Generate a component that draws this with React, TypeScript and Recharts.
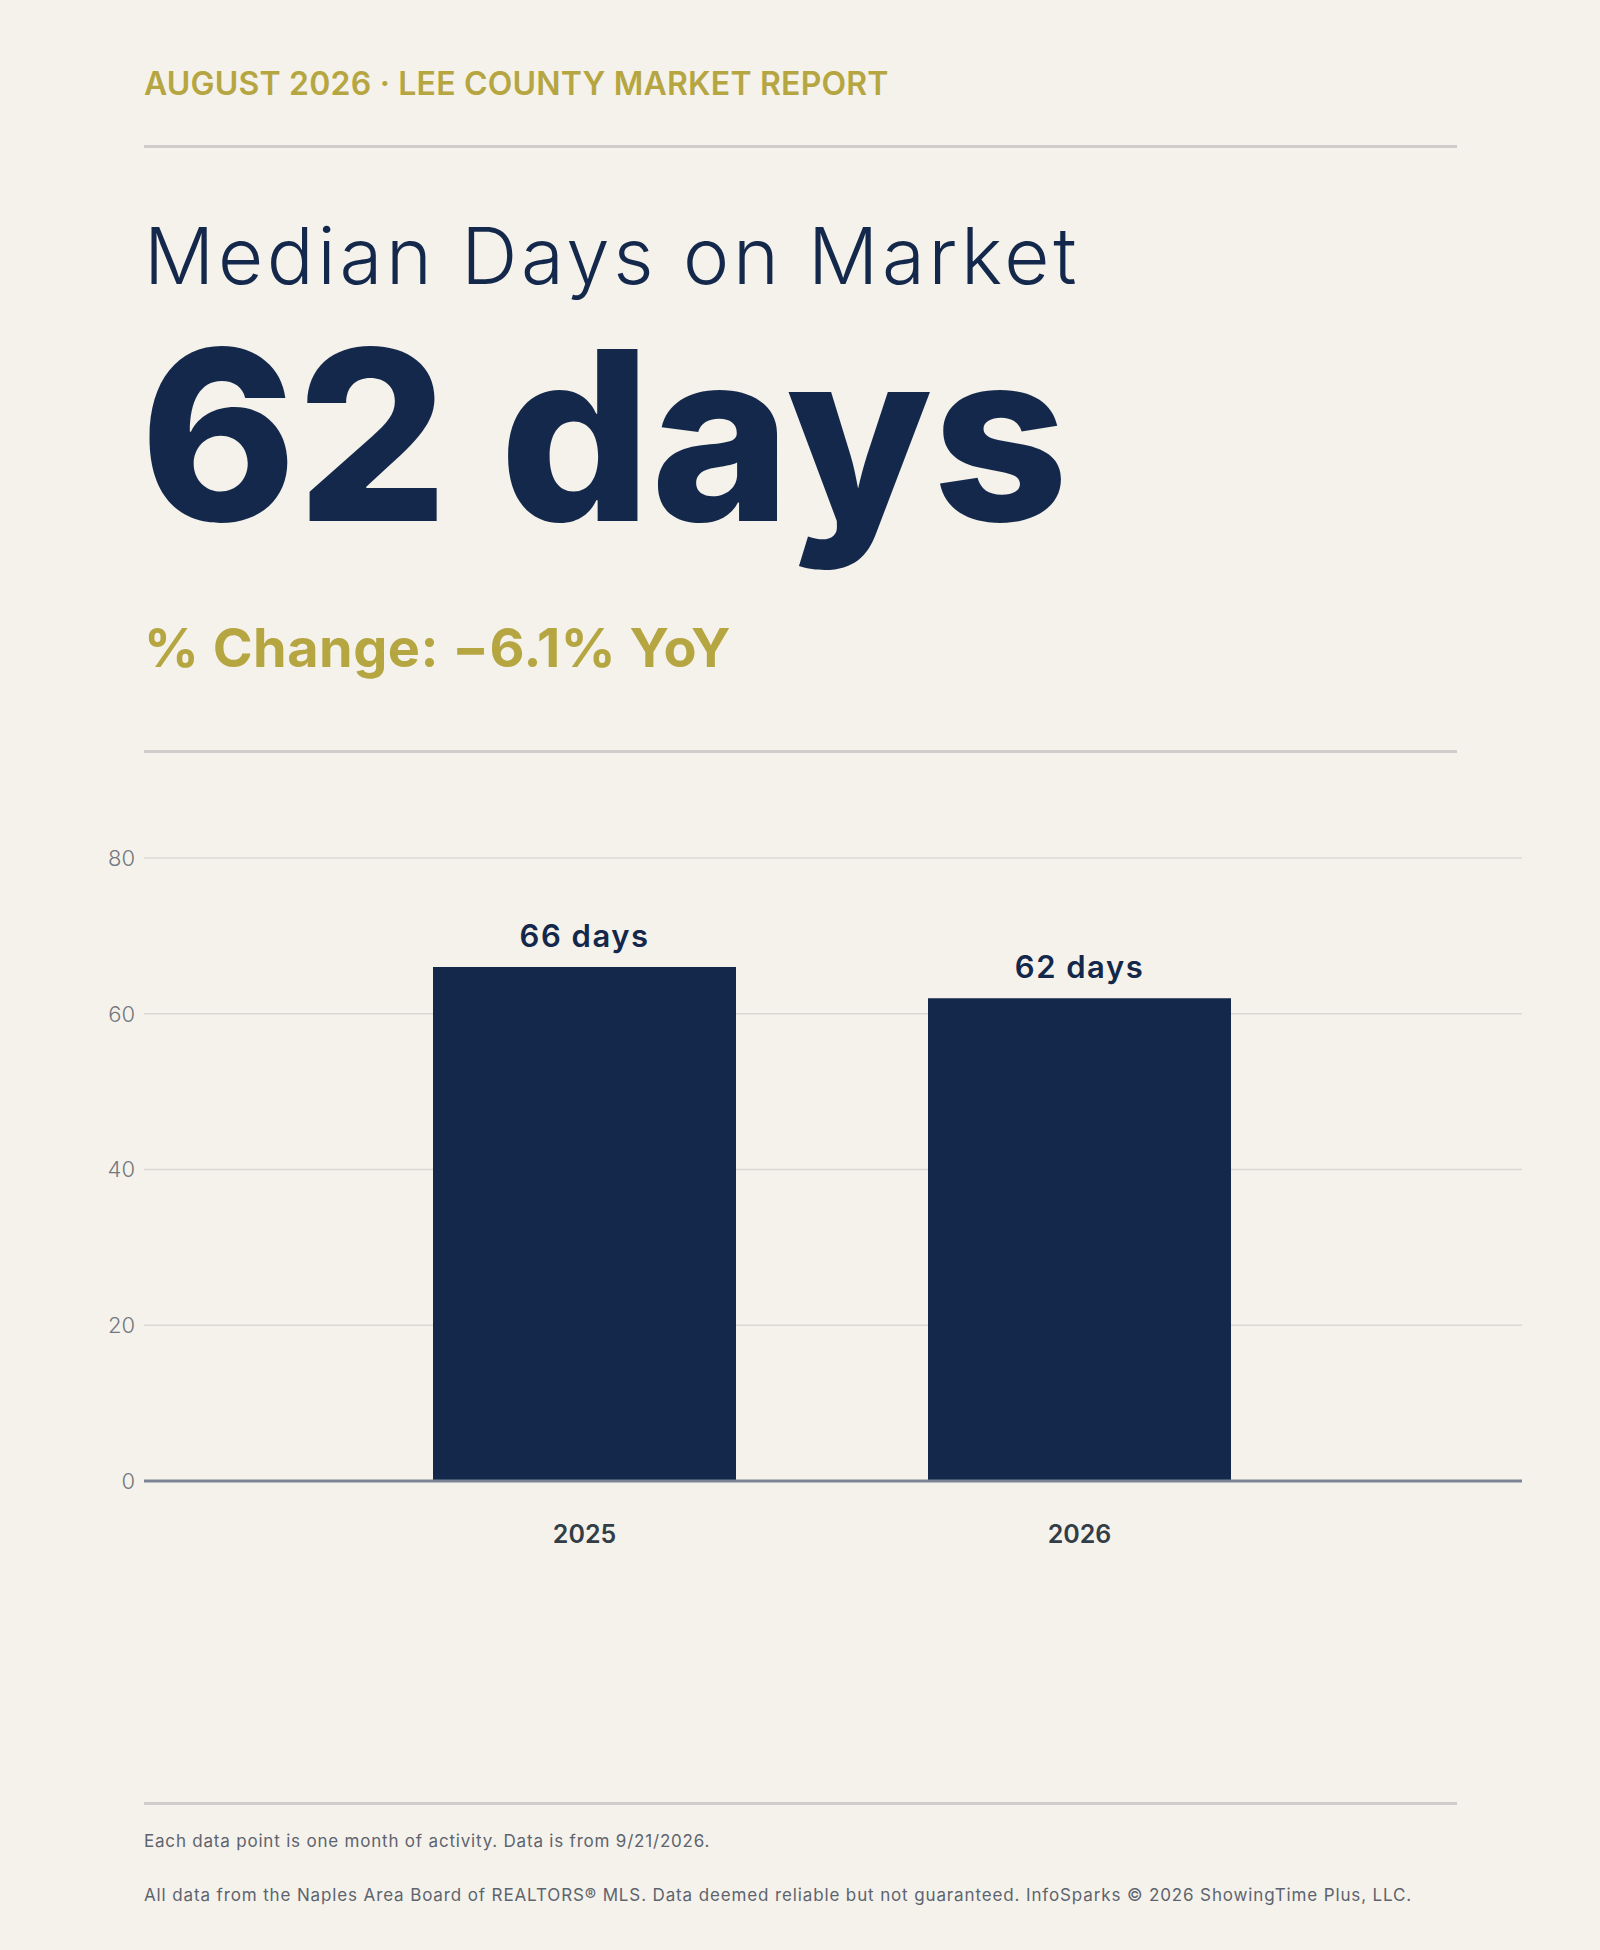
import { BarChart, Bar, XAxis, YAxis, CartesianGrid, LabelList } from "recharts";

const years = ["2025", "2026"];
const medianDays = [66, 62];
const yTicks = [0, 20, 40, 60, 80];

const data = years.map((year, i) => ({ year, days: medianDays[i] }));

const NAVY = "#13284A";
const GOLD = "#B5A642";
const BG = "#F5F2EB";
const FONT = "Inter, 'Open Sans', sans-serif";

const rule = (top: number) => (
  <div
    style={{
      position: "absolute",
      left: 144,
      top,
      width: 1313,
      height: 3,
      background: "#CFCDCB",
    }}
  />
);

export default function App() {
  return (
    <div
      style={{
        position: "absolute",
        left: 0,
        top: 0,
        width: 1600,
        height: 1950,
        background: BG,
        fontFamily: FONT,
        overflow: "hidden",
      }}
    >
      <div
        style={{
          position: "absolute",
          left: 144,
          top: 68,
          fontSize: 32,
          lineHeight: 1,
          fontWeight: 600,
          letterSpacing: 0.2,
          color: GOLD,
          whiteSpace: "nowrap",
        }}
      >
        AUGUST 2026 · LEE COUNTY MARKET REPORT
      </div>
      {rule(145)}
      <div
        style={{
          position: "absolute",
          left: 144,
          top: 217,
          fontSize: 78,
          lineHeight: 1,
          fontWeight: 300,
          letterSpacing: 3.7,
          color: NAVY,
          whiteSpace: "nowrap",
        }}
      >
        Median Days on Market
      </div>
      <div
        style={{
          position: "absolute",
          left: 140,
          top: 316,
          fontSize: 237,
          lineHeight: 1,
          fontWeight: 800,
          color: NAVY,
          whiteSpace: "nowrap",
        }}
      >
        62 days
      </div>
      <div
        style={{
          position: "absolute",
          left: 144,
          top: 621,
          fontSize: 54,
          lineHeight: 1,
          fontWeight: 700,
          letterSpacing: 0.5,
          color: GOLD,
          whiteSpace: "nowrap",
        }}
      >
        % Change: −6.1% YoY
      </div>
      {rule(750)}

      <div style={{ position: "absolute", left: 0, top: 820 }}>
        <BarChart
          width={1600}
          height={741}
          data={data}
          margin={{ top: 38, right: 78, bottom: 0, left: 0 }}
        >
          <CartesianGrid vertical={false} stroke="#DAD8D3" strokeWidth={1.5} />
          <XAxis
            dataKey="year"
            height={80}
            padding={{ left: 193, right: 195 }}
            tickLine={false}
            tickSize={0}
            tickMargin={44}
            axisLine={{ stroke: "#7B8595", strokeWidth: 3 }}
            tick={{ fill: "#333D47", fontSize: 25, fontWeight: 600, fontFamily: FONT }}
          />
          <YAxis
            width={144}
            domain={[0, 80]}
            ticks={yTicks}
            axisLine={false}
            tickLine={false}
            tickSize={0}
            tickMargin={9}
            tick={{ fill: "#73787F", fontSize: 22, fontWeight: 300, fontFamily: FONT }}
          />
          <Bar dataKey="days" fill={NAVY} barSize={303} isAnimationActive={false}>
            <LabelList
              dataKey="days"
              position="top"
              offset={20}
              formatter={(v: number) => `${v} days`}
              style={{ fill: NAVY, fontSize: 31, fontWeight: 600, letterSpacing: 1.5, fontFamily: FONT }}
            />
          </Bar>
        </BarChart>
      </div>

      {rule(1802)}
      <div
        style={{
          position: "absolute",
          left: 144,
          top: 1833,
          fontSize: 17,
          lineHeight: 1,
          letterSpacing: 0.8,
          color: "#5D646E",
          whiteSpace: "nowrap",
        }}
      >
        Each data point is one month of activity. Data is from 9/21/2026.
      </div>
      <div
        style={{
          position: "absolute",
          left: 144,
          top: 1887,
          fontSize: 17,
          lineHeight: 1,
          letterSpacing: 0.87,
          color: "#5D646E",
          whiteSpace: "nowrap",
        }}
      >
        All data from the Naples Area Board of REALTORS® MLS. Data deemed reliable but not guaranteed. InfoSparks © 2026 ShowingTime Plus, LLC.
      </div>
    </div>
  );
}
